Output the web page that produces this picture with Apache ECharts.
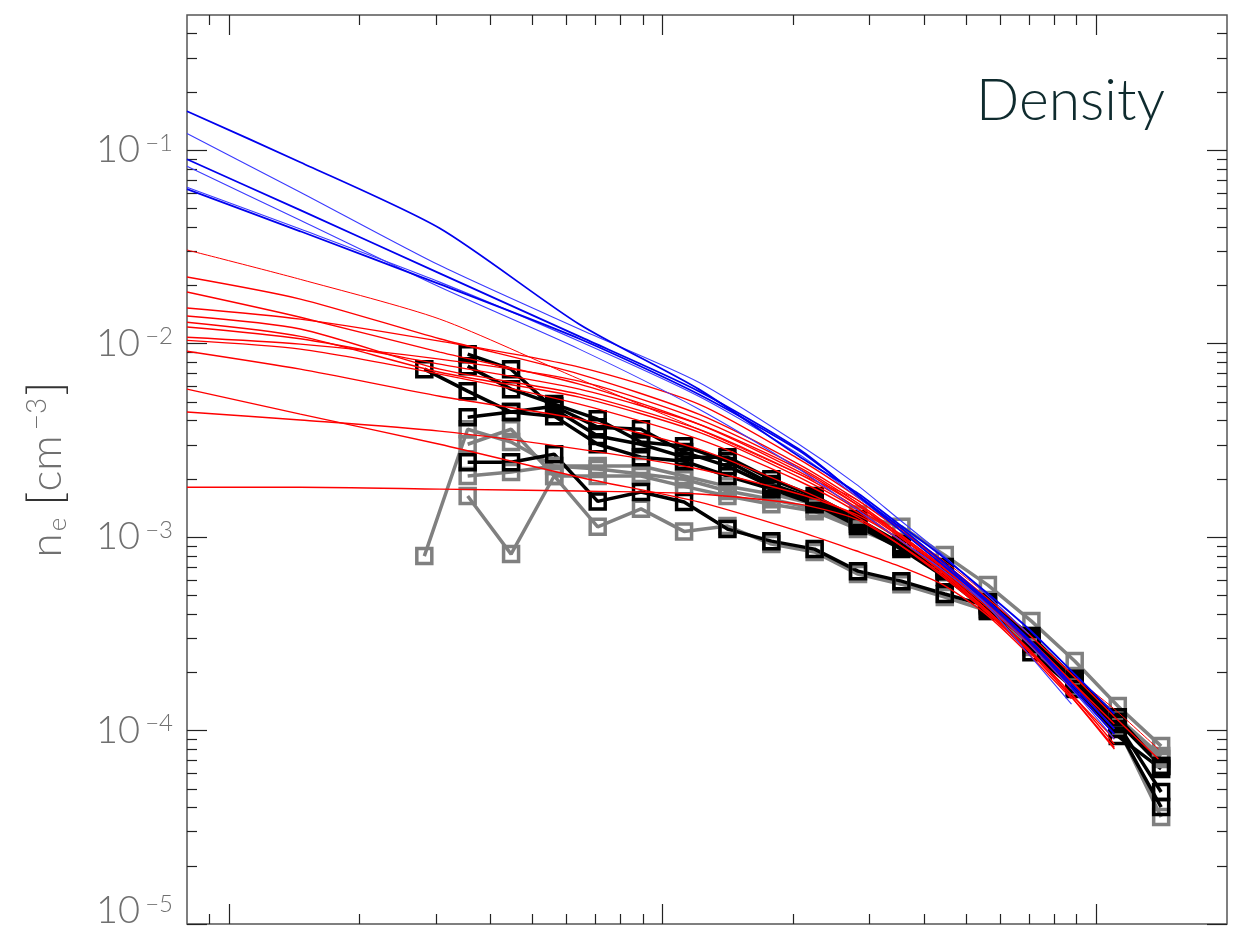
<!DOCTYPE html>
<html>
<head>
<meta charset="utf-8">
<title>Density</title>
<script src="https://cdn.jsdelivr.net/npm/echarts@6/dist/echarts.min.js"></script>
<style>
  html, body { margin: 0; padding: 0; background: #fff; }
  #chart { width: 1241px; height: 930px; }
</style>
</head>
<body>
<div id="chart"></div>
<script>
// radii of the binned profiles (squares)
var radius = [0.0282, 0.0355, 0.0447, 0.0562, 0.0708, 0.0891, 0.112, 0.141, 0.178,
              0.224, 0.282, 0.355, 0.447, 0.562, 0.708, 0.891, 1.12, 1.41];
// radii where the model curves were read
var modelRadius = [0.008, 0.0146, 0.0306, 0.0642, 0.121, 0.206, 0.279, 0.35, 0.44,
                   0.556, 0.698, 0.876, 1.10, 1.39];

// blue model curves (thick ones first, then thin)
var blueThick1 = [0.159, 0.0867, 0.0395, 0.0126, 0.00582, 0.00262, 0.00171, 0.00117, 0.000798, 0.00052, 0.000335, 0.000203, 0.000122, null];
var blueThick2 = [0.0898, 0.049, 0.0231, 0.0109, 0.00568, 0.00285, 0.00167, 0.00114, 0.000752, 0.000478, 0.000297, 0.000174, 0.000102, null];
var blueThick3 = [0.0629, 0.0381, 0.0203, 0.0106, 0.00548, 0.0028, 0.00167, 0.0011, 0.000725, 0.000467, 0.00029, 0.000168, 0.0000959, null];
var blueThin1 = [0.122, 0.0607, 0.0254, 0.0119, 0.00632, 0.00302, 0.00188, 0.00124, 0.000817, 0.000508, 0.000315, null, null, null];
var blueThin2 = [0.0827, 0.0434, 0.0196, 0.00937, 0.00459, 0.00225, 0.0014, 0.000976, 0.000683, 0.00045, 0.00028, 0.000164, 0.0000904, null];
var blueThin3 = [0.0644, 0.0391, 0.0208, 0.0103, 0.00535, 0.00268, 0.00163, 0.0011, 0.000725, 0.00045, 0.000248, 0.000137, null, null];

// red model curves
var red1 = [0.0305, 0.0215, 0.0134, 0.00656, 0.00361, 0.00212, 0.00157, 0.0011, 0.00077, 0.000508, 0.000315, 0.000196, 0.000129, 0.0000802];
var red2 = [0.0221, 0.017, 0.0106, 0.00696, 0.00432, 0.00238, 0.00157, 0.0011, 0.00075, 0.00049, 0.000315, 0.000196, 0.000118, 0.0000712];
var red3 = [0.0185, 0.0137, 0.00904, 0.00618, 0.00384, 0.00218, 0.00148, 0.00104, 0.00071, 0.000461, 0.000297, 0.00018, 0.000108, null];
var red4 = [0.0153, 0.0134, 0.0103, 0.00756, 0.00487, 0.00253, 0.00163, 0.00113, 0.00074, 0.000478, 0.000297, 0.000178, 0.000102, null];
var red5 = [0.0139, 0.0119, 0.00738, 0.00548, 0.00361, 0.00212, 0.00143, 0.00101, 0.000683, 0.00044, 0.00028, 0.000164, null, null];
var red6 = [0.0129, 0.0109, 0.00712, 0.00529, 0.00349, 0.00204, 0.0014, 0.000976, 0.000667, 0.000424, 0.000264, null, null, null];
var red7 = [0.0122, 0.0106, 0.00784, 0.00582, 0.00384, 0.00225, 0.00148, 0.00102, 0.0007, 0.00045, 0.00028, 0.000168, 0.0000959, null];
var red8 = [0.0108, 0.00994, 0.00832, 0.0064, 0.00407, 0.0023, 0.00152, 0.00105, 0.00071, 0.000455, 0.000287, 0.000172, null, null];
var red9 = [0.0104, 0.00937, 0.00696, 0.00487, 0.00321, 0.00195, 0.00136, 0.000976, 0.000659, 0.000424, 0.000264, 0.000154, 0.0000851, null];
var red10 = [0.00914, 0.00738, 0.00535, 0.00407, 0.00285, 0.00177, 0.00128, 0.00092, 0.00063, 0.00041, 0.000257, 0.000149, 0.0000802, null];
var red11 = [0.00582, 0.00432, 0.00302, 0.00204, 0.00152, 0.00107, 0.00085, 0.00071, 0.000571, 0.0004, 0.000248, 0.000146, null, null];
var red12 = [0.00443, 0.00403, 0.00353, 0.00285, 0.00225, 0.00167, 0.00131, 0.000976, 0.000667, 0.000424, 0.000264, 0.000154, 0.0000904, null];
var red13 = [0.00181, 0.00181, 0.00177, 0.00173, 0.00167, 0.00148, 0.00124, 0.00092, 0.000644, 0.000415, 0.000257, 0.000149, 0.0000818, null];

// black profiles (squares)
var black1 = [null, 0.00244, 0.00244, 0.00268, 0.00153, 0.00171, 0.00152, 0.0011, 0.000953, 0.000867, 0.000667, 0.000592, 0.000508, 0.00044, 0.00028, 0.000174, 0.000108, 0.0000481];
var black2 = [0.00738, 0.00568, 0.00443, 0.00475, 0.0037, 0.00361, 0.00275, 0.00233, 0.00183, 0.00152, 0.00117, 0.000899, 0.000683, 0.00045, 0.000297, 0.000178, 0.000111, 0.0000656];
var black3 = [null, 0.00882, 0.00738, 0.00459, 0.00333, 0.00302, 0.00259, 0.00259, 0.00199, 0.00163, 0.00124, 0.00092, 0.0007, 0.000461, 0.000308, 0.000185, 0.000117, 0.0000656];
var black4 = [null, 0.00765, 0.00582, 0.00487, 0.00407, 0.0031, 0.00295, 0.00247, 0.00188, 0.00157, 0.00121, 0.000888, 0.000667, 0.000424, 0.000287, 0.000174, 0.000102, 0.0000402];
var black5 = [null, 0.00417, 0.00443, 0.00422, 0.00302, 0.00259, 0.00247, 0.00207, 0.00177, 0.00148, 0.00114, 0.000867, 0.000621, 0.000415, 0.000254, 0.000164, 0.0000937, 0.0000633];

// grey profiles (squares)
var grey1 = [null, 0.00163, 0.000817, 0.00207, 0.00113, 0.0014, 0.00107, 0.00114, 0.00092, 0.000837, 0.000644, 0.000571, 0.00049, 0.000415, 0.00027, 0.000168, 0.000104, 0.0000357];
var grey2 = [0.000798, 0.00361, 0.0031, 0.00233, 0.00233, 0.00233, 0.00207, 0.00183, 0.00167, 0.00148, 0.00131, 0.00113, 0.000807, 0.000565, 0.000368, 0.000229, 0.000134, 0.0000831];
var grey3 = [null, 0.00302, 0.00361, 0.00207, 0.00207, 0.00207, 0.00183, 0.00163, 0.00148, 0.00136, 0.0011, 0.000888, 0.000667, 0.000461, 0.000297, 0.000189, 0.000117, 0.0000738];
var grey4 = [null, 0.00207, 0.00217, 0.00233, 0.00225, 0.00212, 0.00199, 0.00173, 0.00157, 0.0014, 0.00114, 0.000899, 0.000659, 0.00045, 0.00029, 0.00018, 0.000112, 0.0000712];

// axis ranges and tick labels
var xMin = 0.008, xMax = 2;
var yMin = 1e-5, yMax = 0.5;
var yLabelValues = [1e-5, 1e-4, 1e-3, 1e-2, 1e-1];
var xMajorTicks = [0.01, 0.1, 1];

function minorTicks(lo, hi) {
    var out = [];
    for (var e = -6; e <= 1; e++) {
        for (var m = 2; m <= 9; m++) {
            var v = m * Math.pow(10, e);
            if (v > lo && v < hi) out.push(v);
        }
    }
    return out;
}

function pairs(xs, ys) {
    var out = [];
    for (var i = 0; i < xs.length; i++) {
        if (ys[i] != null) out.push([xs[i], ys[i]]);
    }
    return out;
}

// ticks only, drawn on a value axis in log10 space over the same range
function tickAxis(pos, lo, hi, ticks, len) {
    return {
        type: 'value',
        position: pos,
        min: Math.log10(lo),
        max: Math.log10(hi),
        axisLine: { show: false, onZero: false },
        axisLabel: { show: false },
        splitLine: { show: false },
        axisTick: {
            show: true,
            inside: true,
            length: len,
            customValues: ticks.map(function (t) { return Math.log10(t); }),
            lineStyle: { color: '#222', width: 1.2 }
        }
    };
}

function modelLine(ys, color, width) {
    return {
        type: 'line',
        data: pairs(modelRadius, ys),
        symbol: 'none',
        smooth: 0.25,
        lineStyle: { color: color, width: width },
        z: 4,
        silent: true
    };
}

function profile(ys, color) {
    return {
        type: 'line',
        data: pairs(radius, ys),
        symbol: 'rect',
        symbolSize: 15,
        showAllSymbol: true,
        lineStyle: { color: color, width: 3.5 },
        itemStyle: { color: 'rgba(255,255,255,0)', borderColor: color, borderWidth: 3.5 },
        z: 3,
        silent: true
    };
}

var myChart = echarts.init(document.getElementById('chart'));

var series = [];
[grey1, grey2, grey3, grey4].forEach(function (g) { series.push(profile(g, '#808080')); });
[black1, black2, black3, black4, black5].forEach(function (b) { series.push(profile(b, '#000000')); });
[red1].forEach(function (r) { series.push(modelLine(r, '#ff0000', 1)); });
[red2, red3, red4, red5, red6, red7, red8, red9, red10, red11, red12, red13].forEach(function (r) {
    series.push(modelLine(r, '#ff0000', 1.4));
});
[blueThin1, blueThin2, blueThin3].forEach(function (b) { series.push(modelLine(b, '#3a3aff', 1.1)); });
[blueThick1, blueThick2, blueThick3].forEach(function (b) { series.push(modelLine(b, '#0000ee', 1.8)); });

var labelFont = 'Lato';
var option = {
    animation: false,
    backgroundColor: '#ffffff',
    title: {
        text: 'Density',
        right: 76,
        top: 73,
        padding: 0,
        textStyle: { fontFamily: labelFont, fontWeight: 300, fontSize: 57, color: '#0f2b2e' }
    },
    grid: {
        left: 187, right: 14, top: 15, bottom: 5,
        show: true,
        borderColor: '#555',
        borderWidth: 1.5
    },
    xAxis: [
        {
            type: 'log',
            logBase: 10,
            min: xMin,
            max: xMax,
            position: 'bottom',
            axisLine: { show: false },
            axisTick: { show: false },
            axisLabel: { show: false },
            splitLine: { show: false }
        },
        tickAxis('bottom', xMin, xMax, xMajorTicks, 20),
        tickAxis('bottom', xMin, xMax, minorTicks(xMin, xMax), 10),
        tickAxis('top', xMin, xMax, xMajorTicks, 20),
        tickAxis('top', xMin, xMax, minorTicks(xMin, xMax), 10)
    ],
    yAxis: [
        {
            type: 'log',
            logBase: 10,
            min: yMin,
            max: yMax,
            position: 'left',
            splitNumber: 5,
            axisLine: { show: false, onZero: false },
            axisTick: { show: false },
            splitLine: { show: false },
            name: '{n|n}{sub|e}{n| }{br|[}{n|cm}{sup|\u22123}{br|]}',
            nameLocation: 'middle',
            nameGap: 116,
            nameRotate: 90,
            nameTextStyle: {
                rich: {
                    n: { fontFamily: labelFont, fontWeight: 300, fontSize: 44, color: '#707070' },
                    sub: { fontFamily: labelFont, fontWeight: 300, fontSize: 26, color: '#707070', verticalAlign: 'bottom', padding: [14, 0, 0, 2] },
                    sup: { fontFamily: labelFont, fontWeight: 300, fontSize: 28, color: '#707070', verticalAlign: 'top', padding: [0, 2, 18, 5] },
                    br: { fontFamily: labelFont, fontWeight: 300, fontSize: 48, color: '#333333' }
                }
            },
            axisLabel: {
                margin: 14,
                formatter: function (v) {
                    var e = Math.round(Math.log10(v));
                    var hit = false;
                    yLabelValues.forEach(function (t) { if (Math.abs(Math.log10(t) - Math.log10(v)) < 1e-6) hit = true; });
                    if (!hit) return '';
                    if (e === -5) return '{b5|10}{s5|\u2212' + (-e) + '}';
                    return '{b|10}{s|\u2212' + (-e) + '}';
                },
                rich: {
                    b: { fontFamily: labelFont, fontWeight: 300, fontSize: 38, color: '#707070' },
                    s: { fontFamily: labelFont, fontWeight: 300, fontSize: 24, color: '#707070', verticalAlign: 'top', padding: [0, 0, 14, 5] },
                    b5: { fontFamily: labelFont, fontWeight: 300, fontSize: 38, color: '#707070', padding: [0, 0, 26, 0] },
                    s5: { fontFamily: labelFont, fontWeight: 300, fontSize: 24, color: '#707070', verticalAlign: 'top', padding: [0, 0, 40, 5] }
                }
            }
        },
        tickAxis('left', yMin, yMax, yLabelValues, 20),
        tickAxis('left', yMin, yMax, minorTicks(yMin, yMax), 10),
        tickAxis('right', yMin, yMax, yLabelValues, 20),
        tickAxis('right', yMin, yMax, minorTicks(yMin, yMax), 10)
    ],
    series: series
};

myChart.setOption(option);
</script>
</body>
</html>
